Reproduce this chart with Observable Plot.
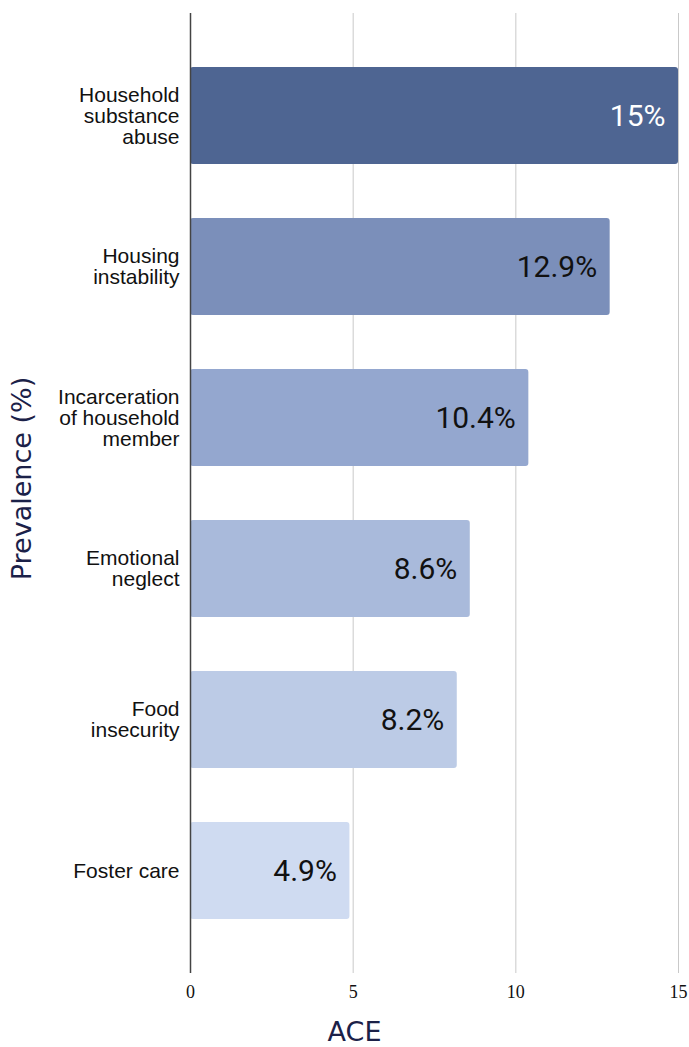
<!DOCTYPE html>
<html>
<head>
<meta charset="utf-8">
<script src="https://cdn.jsdelivr.net/npm/d3@7"></script>
<script src="https://cdn.jsdelivr.net/npm/@observablehq/plot@0.6"></script>
<style>
  html, body { margin: 0; padding: 0; background: #fff; }
  #chart svg { display: block; }
</style>
</head>
<body>
<div id="chart"></div>
<script>
const categories = [
  "Household substance abuse",
  "Housing instability",
  "Incarceration of household member",
  "Emotional neglect",
  "Food insecurity",
  "Foster care"
];
const tickLabels = [
  "Household\nsubstance\nabuse",
  "Housing\ninstability",
  "Incarceration\nof household\nmember",
  "Emotional\nneglect",
  "Food\ninsecurity",
  "Foster care"
];
const values = [15, 12.9, 10.4, 8.6, 8.2, 4.9];
const xTicks = [0, 5, 10, 15];

const palette = ["#4e6592", "#7b8fba", "#94a7cf", "#a9badb", "#bccbe6", "#cfdbf1"];

const data = categories.map((c, i) => ({category: c, value: values[i]}));

const chart = Plot.plot({
  width: 689,
  height: 1047,
  marginLeft: 190,
  marginRight: 11,
  marginTop: 13,
  marginBottom: 74,
  style: {background: "#fff", overflow: "visible"},
  x: {domain: [0, 15], ticks: xTicks},
  y: {domain: categories, paddingInner: 0.36, paddingOuter: 0.35},
  color: {type: "ordinal", domain: categories, range: palette},
  marks: [
    Plot.gridX({ticks: xTicks.slice(1), stroke: "#c9c9c9", strokeOpacity: 1, strokeWidth: 1}),
    Plot.barX(data, {x: "value", y: "category", fill: "category", rx: 3}),
    Plot.ruleX([0], {stroke: "#444", strokeWidth: 1.5}),
    Plot.text(data, {
      x: "value", y: "category",
      text: d => `${d.value}%`,
      textAnchor: "end", dx: -13,
      fontSize: 30, fontFamily: "Roboto",
      fill: d => d.category === categories[0] ? "#ffffff" : "#111111"
    }),
    Plot.axisX({
      ticks: xTicks, tickSize: 0, tickPadding: 12, label: null,
      fontSize: 18, fontFamily: "Liberation Serif", fill: "#111"
    }),
    Plot.axisY({
      tickSize: 0, tickPadding: 11, label: null,
      tickFormat: d => tickLabels[categories.indexOf(d)],
      fontSize: 21, fontFamily: "Liberation Sans", lineHeight: 1.0, fill: "#111"
    }),
    Plot.text(["ACE"], {
      frameAnchor: "bottom", textAnchor: "middle", dx: -80, dy: 67,
      fontSize: 27, fontFamily: "DejaVu Sans", fontWeight: 400, fill: "#1b2148", text: d => d
    }),
    Plot.text(["Prevalence (%)"], {
      frameAnchor: "left", textAnchor: "middle", rotate: -90, dx: -168, dy: -15,
      fontSize: 27, fontFamily: "DejaVu Sans", fontWeight: 400, fill: "#1b2148", text: d => d
    })
  ]
});
document.getElementById("chart").appendChild(chart);
</script>
</body>
</html>
